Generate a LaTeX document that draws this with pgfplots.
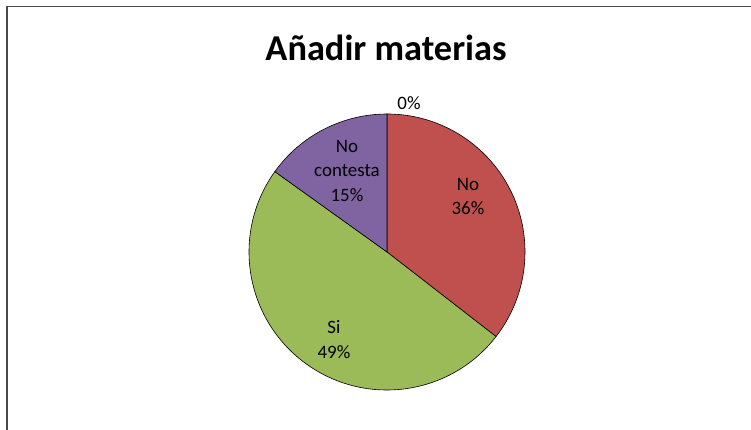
\documentclass[border=0pt]{standalone}
\usepackage{pgfplots}
\usepackage{pgfplotstable}
\pgfplotsset{compat=1.18}
\usepackage{fontspec}
\setmainfont{Carlito}
\definecolor{pieRed}{HTML}{C0504D}
\definecolor{pieGreen}{HTML}{9BBB59}
\definecolor{piePurple}{HTML}{8064A2}
\definecolor{frameGray}{HTML}{4A4A4A}

\pgfplotstableread{
label value
No 35.5
Si 49.4
NoContesta 15.1
Blank 0
}\piedata
\pgfplotstablegetelem{0}{value}\of\piedata \let\vA\pgfplotsretval
\pgfplotstablegetelem{1}{value}\of\piedata \let\vB\pgfplotsretval
\pgfplotstablegetelem{2}{value}\of\piedata \let\vC\pgfplotsretval
\pgfmathsetmacro\aA{90}
\pgfmathsetmacro\aB{90-3.6*\vA}
\pgfmathsetmacro\aC{\aB-3.6*\vB}
\pgfmathsetmacro\aD{\aC-3.6*\vC}

\begin{document}
\begin{tikzpicture}
\begin{axis}[
  width=751bp, height=430bp, scale only axis,
  xmin=0, xmax=751, ymin=0, ymax=430,
  hide axis, clip=false, at={(0,0)}, anchor=south west,
]
\path[fill=white] (axis cs:0,0) rectangle (axis cs:751,430);
% frame
\draw[frameGray, line width=1.4bp] (axis cs:7,0) -- (axis cs:7,423.5) -- (axis cs:751,423.5);
% wedges
\filldraw[fill=pieRed, draw=black, line width=0.6bp] (axis cs:387,178) -- ++(\aA:138bp) arc[start angle=\aA, end angle=\aB, radius=138bp] -- cycle;
\filldraw[fill=pieGreen, draw=black, line width=0.6bp] (axis cs:387,178) -- ++(\aB:138bp) arc[start angle=\aB, end angle=\aC, radius=138bp] -- cycle;
\filldraw[fill=piePurple, draw=black, line width=0.6bp] (axis cs:387,178) -- ++(\aC:138bp) arc[start angle=\aC, end angle=\aD, radius=138bp] -- cycle;
% title
\node[font=\fontsize{36.5}{42}\selectfont\bfseries] at (axis cs:386,382) {Añadir materias};
% labels
\begin{scope}[every node/.style={align=center, font=\fontsize{19}{25}\selectfont}]
\node at (axis cs:468,233.5) {No\\36\%};
\node at (axis cs:347,259) {No\\contesta\\15\%};
\node at (axis cs:334,90.5) {Si\\49\%};
\node at (axis cs:409,327) {0\%};
\end{scope}
\end{axis}
\pgfresetboundingbox
\useasboundingbox (0,0) rectangle (751bp,430bp);
\end{tikzpicture}
\end{document}
